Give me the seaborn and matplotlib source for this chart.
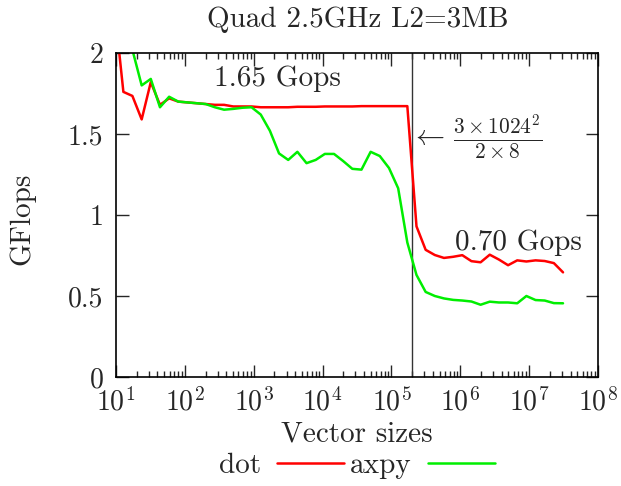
import numpy as np
import pandas as pd
import matplotlib
matplotlib.use("Agg")
import matplotlib.pyplot as plt
import matplotlib.ticker as mticker
import seaborn as sns

# ---- data ----
sizes = [9.4, 12.8, 17.3, 23.6, 32.0, 43.5, 59.1, 80.2, 109, 148, 201, 273, 371, 504, 685,
         930, 1265, 1718, 2333, 3170, 4306, 5850, 7945, 10790, 14660, 19910, 27040,
         36730, 49890, 67770, 92200, 125300, 170200, 231200, 314100, 426600, 579400,
         787000, 1069000, 1452000, 1972000, 2679000, 3639000, 4943000, 6714000,
         9120000, 12390000, 16830000, 22860000, 31050000]

dot = [2.3, 1.76, 1.735, 1.59, 1.82, 1.68, 1.72, 1.70, 1.695, 1.69, 1.685, 1.68, 1.68,
       1.67, 1.67, 1.67, 1.665, 1.665, 1.665, 1.665, 1.668, 1.668, 1.668, 1.67, 1.67,
       1.67, 1.67, 1.672, 1.672, 1.672, 1.672, 1.672, 1.672, 0.93, 0.785, 0.753, 0.735,
       0.742, 0.752, 0.715, 0.708, 0.755, 0.725, 0.69, 0.72, 0.713, 0.72, 0.716,
       0.703, 0.646]

axpy = [2.8, 2.4, 2.02, 1.80, 1.84, 1.665, 1.73, 1.70, 1.695, 1.69, 1.685, 1.665, 1.65,
        1.655, 1.662, 1.665, 1.62, 1.52, 1.38, 1.34, 1.39, 1.32, 1.34, 1.377, 1.377,
        1.333, 1.285, 1.28, 1.39, 1.364, 1.29, 1.165, 0.83, 0.63, 0.525, 0.50, 0.485,
        0.476, 0.472, 0.466, 0.446, 0.465, 0.46, 0.46, 0.455, 0.50, 0.475, 0.472,
        0.456, 0.455]

series_names = ["dot", "axpy"]
colors = {"dot": "#ff0000", "axpy": "#00ee00"}
cache_limit = 3 * 1024**2 / (2 * 8)

df = pd.concat([
    pd.DataFrame({"size": sizes, "gflops": dot, "series": "dot"}),
    pd.DataFrame({"size": sizes, "gflops": axpy, "series": "axpy"}),
], ignore_index=True)

sns.set_style("ticks")
plt.rcParams["font.family"] = ["cmr10", "DejaVu Serif"]
plt.rcParams["mathtext.fontset"] = "cm"
plt.rcParams["axes.formatter.use_mathtext"] = True
FS = 21
TFS = 20

fig = plt.figure(figsize=(6.21, 4.86), dpi=100)
ax = fig.add_axes([116/621, 1-377/486, (598-116)/621, (377-53)/486])

sns.lineplot(data=df, x="size", y="gflops", hue="series", hue_order=series_names,
             palette=colors, estimator=None, sort=True, linewidth=1.8, ax=ax, legend=False)

ax.axvline(cache_limit, color="#333333", linewidth=1.0, zorder=1)

ax.set_xscale("log")
ax.set_xlim(10, 1e8)
ax.set_ylim(0, 2)
ax.set_xlabel("")
ax.set_ylabel("")

ax.xaxis.set_major_locator(mticker.LogLocator(base=10, numticks=20))
ax.xaxis.set_minor_locator(mticker.LogLocator(base=10, subs=np.arange(2, 10), numticks=20))
ax.yaxis.set_major_locator(mticker.MultipleLocator(0.5))
ax.yaxis.set_major_formatter(mticker.FuncFormatter(lambda v, p: ("%g" % v)))

ax.tick_params(which="both", direction="in", top=True, right=True, labelsize=TFS, width=1.0)
ax.tick_params(axis="x", which="major", length=9, pad=8)
ax.tick_params(axis="x", which="minor", length=4.5)
ax.tick_params(axis="y", which="major", length=9, pad=9)
for s in ax.spines.values():
    s.set_linewidth(1.2)
    s.set_color("black")

ax.text(2200, 1.84, "1.65 Gops", fontsize=FS, ha="center", va="center")
ax.text(7.0e6, 0.83, "0.70 Gops", fontsize=FS, ha="center", va="center")
ax.text(3.3e5, 1.48, r"$\leftarrow$", fontsize=FS, ha="center", va="center")
ax.text(3.5e6, 1.48, r"$\frac{3\times1024^2}{2\times8}$", fontsize=22, ha="center", va="center")

fig.text(358/621, 1-20/486, "Quad 2.5GHz L2=3MB", fontsize=FS, ha="center", va="center")
fig.text(22/621, 1-219/486, "GFlops", fontsize=FS, ha="center", va="center", rotation=90)
fig.text(357/621, 1-434/486, "Vector sizes", fontsize=FS, ha="center", va="center")

handles = [plt.Line2D([], [], color=colors[n], linewidth=1.8) for n in series_names]
ax.legend(handles, series_names, loc="center", bbox_to_anchor=(0.5, -0.275), ncol=2,
          frameon=False, markerfirst=False, fontsize=FS, handlelength=2.3,
          handletextpad=0.55, columnspacing=0.2)

fig.savefig("out.png", dpi=100)
